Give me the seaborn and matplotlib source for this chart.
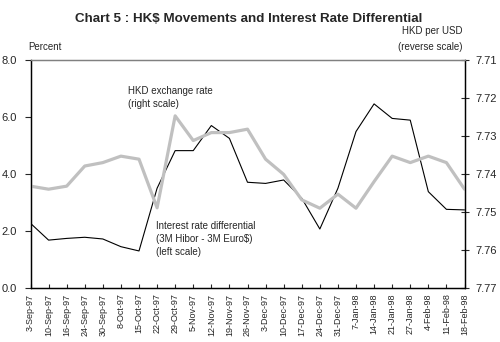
import matplotlib
matplotlib.use("Agg")
import matplotlib.pyplot as plt
import matplotlib.transforms as mtransforms
import seaborn as sns
import pandas as pd
import numpy as np

dates = ["3-Sep-97", "10-Sep-97", "16-Sep-97", "24-Sep-97", "30-Sep-97", "8-Oct-97",
         "15-Oct-97", "22-Oct-97", "29-Oct-97", "5-Nov-97", "12-Nov-97", "19-Nov-97",
         "26-Nov-97", "3-Dec-97", "10-Dec-97", "17-Dec-97", "24-Dec-97", "31-Dec-97",
         "7-Jan-98", "14-Jan-98", "21-Jan-98", "27-Jan-98", "4-Feb-98", "11-Feb-98",
         "18-Feb-98"]
interest_diff = [2.27, 1.68, 1.74, 1.78, 1.72, 1.45, 1.30, 3.50, 4.82, 4.82, 5.70, 5.25,
                 3.71, 3.67, 3.79, 3.15, 2.07, 3.50, 5.49, 6.46, 5.95, 5.89, 3.38, 2.76,
                 2.74]
hkd_rate = [7.7432, 7.7440, 7.7432, 7.7379, 7.7370, 7.7353, 7.7361, 7.7489, 7.7247,
            7.7312, 7.7291, 7.7291, 7.7282, 7.7361, 7.7401, 7.7468, 7.7490, 7.7453,
            7.7490, 7.7420, 7.7353, 7.7370, 7.7353, 7.7370, 7.7440]
left_ticks = [0.0, 2.0, 4.0, 6.0, 8.0]
right_ticks = [7.71, 7.72, 7.73, 7.74, 7.75, 7.76, 7.77]

sns.set_style("white")
plt.rcParams['font.family'] = ['Liberation Sans', 'DejaVu Sans']

df = pd.DataFrame({"pos": np.arange(len(dates)), "date": dates,
                   "diff": interest_diff, "hkd": hkd_rate})

fig = plt.figure(figsize=(5.0, 3.42), dpi=100)
ax = fig.add_axes([30.5 / 500, 1 - 288 / 342, 434 / 500, 228 / 342])
ax2 = ax.twinx()

sns.lineplot(data=df, x="pos", y="diff", ax=ax, color="black", linewidth=0.8)
sns.lineplot(data=df, x="pos", y="hkd", ax=ax2, color="#c0c0c0", linewidth=2.3)

ax.set_xlim(0, len(dates) - 1)
ax.set_ylim(0, 8)
ax2.set_ylim(7.77, 7.71)

ax.set_yticks(left_ticks)
ax.set_yticklabels([f"{v:.1f}" for v in left_ticks], fontsize=8)
ax2.set_yticks(right_ticks)
ax2.set_yticklabels([f"{v:.2f}" for v in right_ticks], fontsize=8)

ax.set_xticks(df["pos"])
ax.set_xticklabels(dates, rotation=90, fontsize=6.5)
offset = mtransforms.ScaledTranslation(-2.5 / 100, 0, fig.dpi_scale_trans)
for lbl in ax.get_xticklabels():
    lbl.set_transform(lbl.get_transform() + offset)

ax.set_xlabel("")
ax.set_ylabel("")
ax2.set_xlabel("")
ax2.set_ylabel("")

ax.tick_params(axis="y", direction="out", length=4, width=0.8, pad=6, left=True)
ax.tick_params(axis="x", direction="in", length=3, width=0.8, pad=4, bottom=True)
ax2.tick_params(axis="y", direction="inout", length=6, width=0.8, pad=5, right=True)

for a in (ax, ax2):
    for s in ("left", "right", "bottom"):
        a.spines[s].set_color("black")
        a.spines[s].set_linewidth(0.9)
    a.spines["top"].set_color("#808080")
    a.spines["top"].set_linewidth(0.9)
    a.grid(False)

fig.text(249 / 500, 1 - 19 / 342, "Chart 5 : HK$ Movements and Interest Rate Differential",
         ha="center", va="center", fontsize=9.6, fontweight="bold")
fig.text(45 / 500, 1 - 47 / 342, "Percent", ha="center", va="center", fontsize=7)
fig.text(463 / 500, 1 - 31 / 342, "HKD per USD", ha="right", va="center", fontsize=7)
fig.text(463 / 500, 1 - 47 / 342, "(reverse scale)", ha="right", va="center", fontsize=7)

fig.text(128 / 500, 1 - 86 / 342, "HKD exchange rate\n(right scale)", ha="left",
         va="top", fontsize=7, linespacing=1.4)
fig.text(156 / 500, 1 - 221 / 342,
         "Interest rate differential\n(3M Hibor - 3M Euro$)\n(left scale)",
         ha="left", va="top", fontsize=7, linespacing=1.4)

fig.savefig("out.png", dpi=100)
